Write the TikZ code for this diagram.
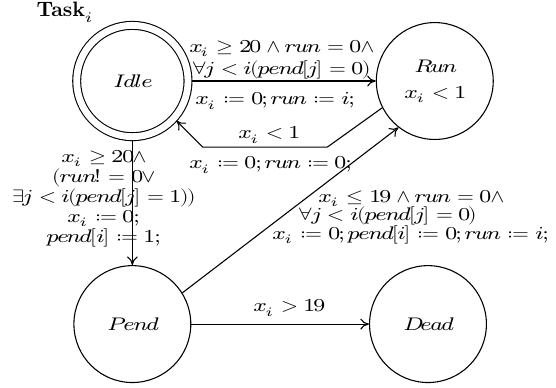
\documentclass[tikz,border=0pt]{standalone}
\usepackage{amsmath}
\usepackage{unicode-math}
\setmathfont{Latin Modern Math}[FakeStretch=1.19]
\usepackage{tikz}
\usetikzlibrary{positioning,arrows.meta}
\newcommand{\lblfont}{\fontsize{8.4}{10}\selectfont\thickmuskip=8mu\relax\medmuskip=6mu\relax}

\begin{document}
\begin{tikzpicture}[
  every node/.style={font=\lblfont},
  state/.style={draw, circle, line width=0.5pt, minimum size=1.89cm, inner sep=0pt},
  trans/.style={line width=0.5pt, -{To[length=4pt,width=5pt]}},
  lbl/.style={align=center, inner sep=0pt}]
\useasboundingbox (0,0) rectangle (8.99,-6.27);
\node[state, double, double distance=0.11cm, minimum size=1.80cm, outer sep=0.06cm] (idle) at (2.14,-1.31) {$Idle$};
\node[state, align=center] (run)  at (7.03,-1.31) {\\[-4pt] $Run$\\[2pt] $x_i < 1$};
\node[state] (pend) at (2.14,-5.24) {$Pend$};
\node[state] (dead) at (6.92,-5.24) {$Dead$};
\node[lbl, font=\fontsize{9.6}{11}\selectfont] (title) at (1.04,-0.2) {\textbf{Task}$_i$};
% transitions
\coordinate (r1) at (5.29,-2.38);
\coordinate (r2) at (3.28,-2.38);
\draw[trans] (idle) -- (run);
\draw[trans] (run.207) -- (r1) -- (r2) -- (idle.-42);
\draw[trans] (idle) -- (pend);
\draw[trans] (pend.32) -- (run.232);
\draw[trans] (pend) -- (dead);
% labels
\node[lbl] (g1) at (4.54,-0.96) {$x_i \geq 20 \wedge run = 0 \wedge$\\ $\forall j < i(pend[j] = 0)$};
\node[lbl] (a1) at (4.45,-1.63) {$x_i := 0; run := i;$};
\node[lbl] (g2) at (4.35,-2.18) {$x_i < 1$};
\node[lbl] (a2) at (4.37,-2.67) {$x_i := 0; run := 0;$};
\node[lbl] (g3) at (1.67,-3.21) {$x_i \geq 20 \wedge$\\[-0.8pt] $(run! = 0 \vee$\\[-0.8pt] $\exists j < i(pend[j] = 1))$\\[-0.8pt] $x_i := 0;$\\[-0.8pt] $pend[i] := 1;$};
\node[lbl] (g4) at (6.64,-3.51) {$x_i \leq 19 \wedge run = 0 \wedge$\\[-1.5pt] \mbox{$\forall j < i(pend[j] = 0)$\hspace{0.75cm}}\\[-1.5pt] $x_i := 0; pend[i] := 0; run := i;$};
\node[lbl] (g5) at (4.67,-4.98) {$x_i > 19$};
\end{tikzpicture}
\end{document}
